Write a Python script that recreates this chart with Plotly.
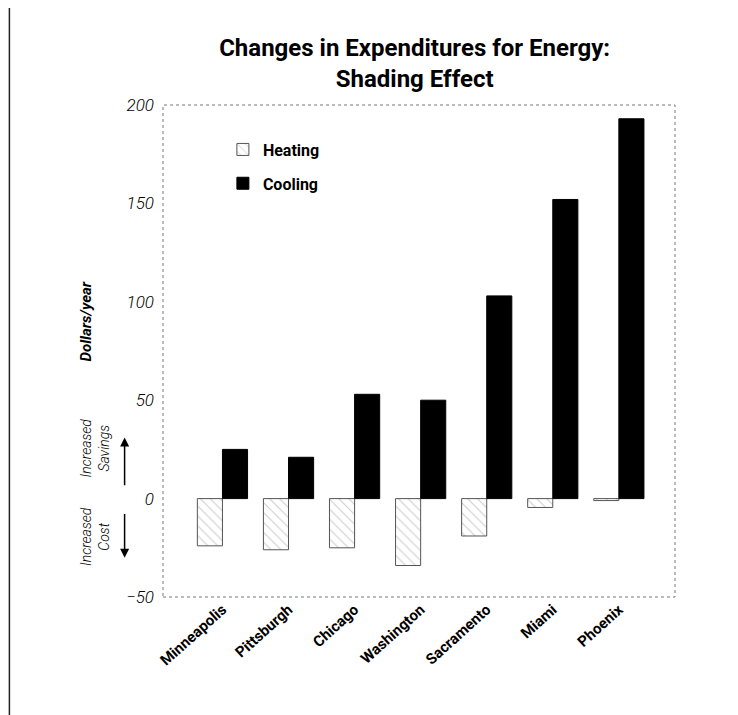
import plotly.graph_objects as go

# === DATA ===
cities = ["Minneapolis", "Pittsburgh", "Chicago", "Washington", "Sacramento", "Miami", "Phoenix"]
heating = [-24, -26, -25, -34, -19, -4.5, -1]
cooling = [25, 21, 53, 50, 103, 152, 193]
y_ticks = [-50, 0, 50, 100, 150, 200]

FONT = "Roboto"

fig = go.Figure()

fig.add_trace(go.Bar(
    x=cities, y=heating, name="Heating", legendgroup="h",
    width=0.38, offset=-0.38,
    marker=dict(
        color="white",
        line=dict(color="#555", width=1),
        pattern=dict(shape="\\", fgcolor="#9a9a9a", bgcolor="white", size=7, solidity=0.15),
    ),
))
fig.add_trace(go.Bar(
    x=cities, y=cooling, name="Cooling", legendgroup="c",
    width=0.38, offset=0,
    marker=dict(color="black", line=dict(color="black", width=1)),
))

# dotted frame around the plot area
fig.add_shape(type="rect", xref="paper", yref="paper", x0=0, x1=1, y0=0, y1=1,
              line=dict(color="#777", width=1, dash="dot"))

# page edge line on the left
fig.add_shape(type="line", xref="paper", yref="paper",
              x0=-0.3, x1=-0.3, y0=-0.26, y1=1.2,
              line=dict(color="#222", width=1.5))

# side notes
fig.add_annotation(text="<b><i>Dollars/year</i></b>", xref="paper", yref="y",
                   x=-0.17, y=90, textangle=-90, showarrow=False,
                   font=dict(family=FONT, size=15, color="black"))
fig.add_annotation(text="<i>Increased<br>Savings</i>", xref="paper", yref="y",
                   x=-0.17, y=26, textangle=-90, showarrow=False,
                   font=dict(family=FONT, size=14, color="black", weight=300))
fig.add_annotation(text="<i>Increased<br>Cost</i>", xref="paper", yref="y",
                   x=-0.17, y=-19, textangle=-90, showarrow=False,
                   font=dict(family=FONT, size=14, color="black", weight=300))
# arrows
fig.add_annotation(x=-0.075, y=31, ax=-0.075, ay=6, xref="x domain", yref="y",
                   axref="x domain", ayref="y", text="", showarrow=True,
                   arrowhead=2, arrowsize=1.2, arrowwidth=1.5, arrowcolor="black")
fig.add_annotation(x=-0.075, y=-30, ax=-0.075, ay=-7, xref="x domain", yref="y",
                   axref="x domain", ayref="y", text="", showarrow=True,
                   arrowhead=2, arrowsize=1.2, arrowwidth=1.5, arrowcolor="black")

fig.update_layout(
    width=738, height=715,
    margin=dict(l=155, r=71, t=97, b=126),
    paper_bgcolor="white", plot_bgcolor="white",
    title=dict(text="<b>Changes in Expenditures for Energy:<br>Shading Effect</b>",
               xref="container", x=0.551, xanchor="center",
               yref="container", y=0.933, yanchor="top",
               font=dict(family=FONT, size=24, color="black")),
    barmode="overlay",
    showlegend=True,
    legend=dict(x=0.117, y=0.944, xanchor="left", yanchor="top",
                bgcolor="rgba(0,0,0,0)", traceorder="grouped",
                font=dict(family=FONT, size=16, color="black", weight="bold"),
                itemwidth=30, tracegroupgap=10),
    xaxis=dict(range=[-0.9, 6.85], showgrid=False, zeroline=False, showline=False,
               ticks="", tickangle=-42,
               tickfont=dict(family=FONT, size=15, color="black", weight="bold")),
    yaxis=dict(range=[-50, 200], tickvals=y_ticks, showgrid=False, zeroline=False,
               showline=False, ticks="", ticklabelstandoff=8,
               tickfont=dict(family=FONT, size=17, color="black", style="italic", weight=300)),
)

fig.write_html("out.html")
